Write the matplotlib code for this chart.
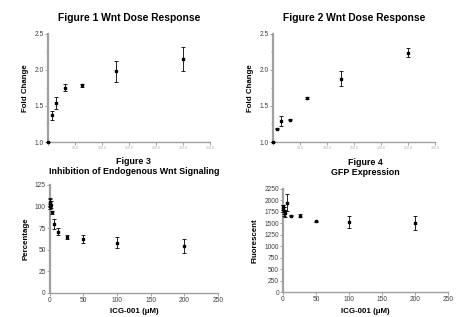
import matplotlib
matplotlib.use("Agg")
import matplotlib.pyplot as plt
from matplotlib.ticker import MultipleLocator

plt.rcParams['font.family'] = ['Liberation Sans', 'DejaVu Sans']

# Figure 1 data
f1_dose = [0, 7.8, 15.6, 31.25, 62.5, 125, 250]
f1_val = [1.0, 1.37, 1.54, 1.755, 1.79, 1.98, 2.15]
f1_err = [0.0, 0.06, 0.08, 0.05, 0.02, 0.145, 0.17]

# Figure 2 data
f2_dose = [0, 7.8, 15.6, 31.25, 62.5, 125, 250]
f2_val = [1.0, 1.185, 1.29, 1.31, 1.61, 1.88, 2.24]
f2_err = [0.0, 0.01, 0.07, 0.01, 0.02, 0.10, 0.06]

# Figure 3 data
f3_dose = [0, 0.39, 0.78, 1.56, 3.125, 6.25, 12.5, 25, 50, 100, 200]
f3_val = [100, 104, 105, 102, 93, 80, 70.5, 64.5, 62, 58, 54.5]
f3_err = [3, 5, 5, 4, 2, 6, 4, 2, 4.5, 6.5, 8]

# Figure 4 data
f4_dose = [0, 0.39, 0.78, 1.56, 3.125, 6.25, 12.5, 25, 50, 100, 200]
f4_val = [1850, 1820, 1780, 1760, 1720, 1950, 1665, 1670, 1550, 1530, 1500]
f4_err = [60, 80, 70, 90, 80, 190, 10, 40, 10, 135, 155]

top_xticks = [0, 50, 100, 150, 200, 250, 300]
top_xlabels = ["", "50.0", "100.0", "150.0", "200.0", "250.0", "300.0"]

fig = plt.figure(figsize=(4.61, 3.17), dpi=100)

def style(ax):
    for s in ['top', 'right']:
        ax.spines[s].set_visible(False)
    ax.spines['left'].set_color('#a0a0a0')
    ax.spines['left'].set_linewidth(1.6)
    ax.spines['bottom'].set_color('#a0a0a0')
    ax.spines['bottom'].set_linewidth(1.0)
    ax.tick_params(axis='both', which='major', length=2, width=0.6, color='#909090',
                   labelsize=4.8, pad=1, labelcolor='#404040')
    ax.tick_params(axis='both', which='minor', length=1.2, width=0.5, color='#909090')

def draw(ax, x, y, e):
    ax.errorbar(x, y, yerr=e, fmt='s', color='black', ms=2.0, elinewidth=0.6,
                capsize=1.5, capthick=0.6, clip_on=False, zorder=3)

ax1 = fig.add_axes([0.104, 0.552, 0.352, 0.341])
draw(ax1, f1_dose, f1_val, f1_err)
ax1.set_xlim(0, 300); ax1.set_ylim(1.0, 2.5)
ax1.set_yticks([1.0, 1.5, 2.0, 2.5])
ax1.yaxis.set_minor_locator(MultipleLocator(0.25))
ax1.set_xticks(top_xticks); ax1.set_xticklabels(top_xlabels)
style(ax1)
ax1.tick_params(axis='x', labelsize=2.5, labelcolor='#b0b0b0')
ax1.set_ylabel("Fold Change", fontsize=5.7, fontweight='bold', labelpad=4)
ax1.set_title("Figure 1 Wnt Dose Response", fontsize=7.4, fontweight='bold', pad=9)

ax2 = fig.add_axes([0.592, 0.552, 0.352, 0.341])
draw(ax2, f2_dose, f2_val, f2_err)
ax2.set_xlim(0, 300); ax2.set_ylim(1.0, 2.5)
ax2.set_yticks([1.0, 1.5, 2.0, 2.5])
ax2.yaxis.set_minor_locator(MultipleLocator(0.25))
ax2.set_xticks(top_xticks); ax2.set_xticklabels(top_xlabels)
style(ax2)
ax2.tick_params(axis='x', labelsize=2.5, labelcolor='#b0b0b0')
ax2.set_ylabel("Fold Change", fontsize=5.7, fontweight='bold', labelpad=4)
ax2.set_title("Figure 2 Wnt Dose Response", fontsize=7.4, fontweight='bold', pad=9)

ax3 = fig.add_axes([0.108, 0.076, 0.365, 0.341])
draw(ax3, f3_dose, f3_val, f3_err)
ax3.set_xlim(0, 250); ax3.set_ylim(0, 125)
ax3.set_xticks([0, 50, 100, 150, 200, 250])
ax3.set_yticks([0, 25, 50, 75, 100, 125])
style(ax3)
ax3.set_ylabel("Percentage", fontsize=5.7, fontweight='bold', labelpad=4)
ax3.set_xlabel("ICG-001 (\u03bcM)", fontsize=5.7, fontweight='bold', labelpad=3)
ax3.set_title("Figure 3\nInhibition of Endogenous Wnt Signaling", fontsize=6.4,
              fontweight='bold', pad=8, linespacing=1.1)

ax4 = fig.add_axes([0.614, 0.078, 0.358, 0.326])
draw(ax4, f4_dose, f4_val, f4_err)
ax4.set_xlim(0, 250); ax4.set_ylim(0, 2250)
ax4.set_xticks([0, 50, 100, 150, 200, 250])
ax4.set_yticks(list(range(0, 2251, 250)))
style(ax4)
ax4.set_ylabel("Fluorescent", fontsize=5.7, fontweight='bold', labelpad=4)
ax4.set_xlabel("ICG-001 (\u03bcM)", fontsize=5.7, fontweight='bold', labelpad=3)
ax4.set_title("Figure 4\nGFP Expression", fontsize=6.4, fontweight='bold', pad=10,
              linespacing=1.1)

fig.savefig("out.png", dpi=100)
